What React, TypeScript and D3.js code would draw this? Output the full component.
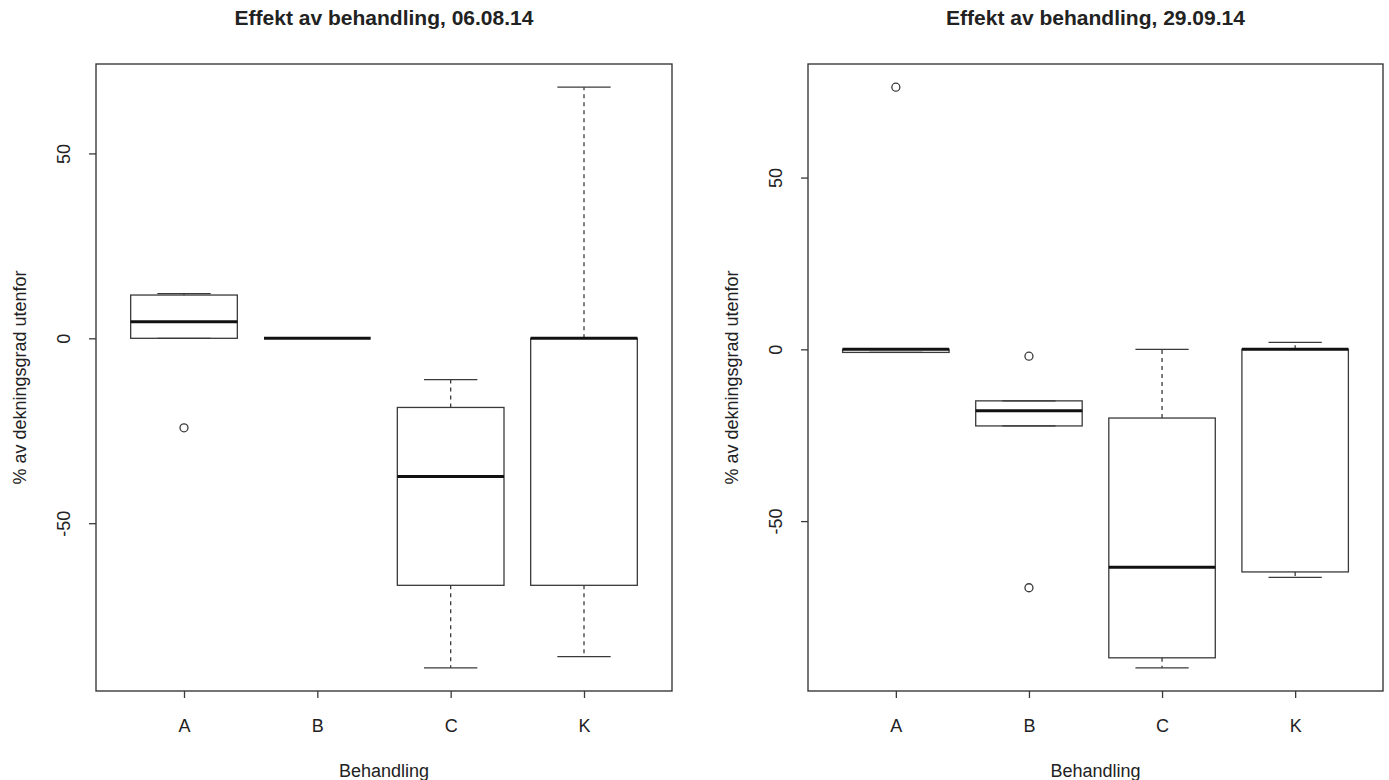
import React, { useEffect, useRef } from "react";
import * as d3 from "d3";

const categories = ["A", "B", "C", "K"];
const yTicks = [-50, 0, 50];

// Effekt av behandling, 06.08.14
const lowerWhisker1 = [0, 0, -89.1, -86.1];
const q1First = [0, 0, -66.8, -66.8];
const median1 = [4.5, 0, -37.4, 0];
const q3First = [11.7, 0, -18.7, 0];
const upperWhisker1 = [12.1, 0, -11.2, 67.9];
const outliers1 = [[-24.2], [], [], []];

// Effekt av behandling, 29.09.14
const lowerWhisker2 = [-0.9, -22.3, -92.7, -66.4];
const q1Second = [-0.9, -22.3, -89.8, -64.8];
const median2 = [0, -17.9, -63.4, 0];
const q3Second = [0, -15, -20, 0];
const upperWhisker2 = [0, -15, 0, 2];
const outliers2 = [[76.3], [-2, -69.4], [], []];

const FONT = "'Liberation Sans', Arial, Helvetica, sans-serif";
const INK = "#3a3a3a";

const App = () => {
  const svgEl = useRef(null);

  useEffect(() => {
    if (!svgEl.current) return;
    const svg = d3.select(svgEl.current);
    svg.selectAll("*").remove();
    drawPanel(svg, {
      left: 96,
      right: 672,
      title: "Effekt av behandling, 06.08.14",
      lower: lowerWhisker1,
      q1: q1First,
      median: median1,
      q3: q3First,
      upper: upperWhisker1,
      outliers: outliers1,
    });
    drawPanel(svg, {
      left: 808,
      right: 1383,
      title: "Effekt av behandling, 29.09.14",
      lower: lowerWhisker2,
      q1: q1Second,
      median: median2,
      q3: q3Second,
      upper: upperWhisker2,
      outliers: outliers2,
    });
  }, [svgEl]);

  return (
    <div style={{ position: "absolute", left: 0, top: 0, background: "#fff" }}>
      <svg ref={svgEl} width={1389} height={780} style={{ display: "block" }}></svg>
    </div>
  );
};

function drawPanel(svg, p) {
  const top = 64;
  const bottom = 691;
  const { left, right } = p;
  const n = categories.length;

  // R style ranges: 4% padding on both axes
  const xPad = n * 0.04;
  const x = d3
    .scaleLinear()
    .domain([0.5 - xPad, n + 0.5 + xPad])
    .range([left, right]);

  const all = [...p.lower, ...p.upper, ...p.outliers.flat()];
  const [mn, mx] = d3.extent(all);
  const yPad = (mx - mn) * 0.04;
  const y = d3
    .scaleLinear()
    .domain([mn - yPad, mx + yPad])
    .range([bottom, top]);

  const g = svg.append("g").attr("font-family", FONT);

  // title
  g.append("text")
    .attr("x", (left + right) / 2)
    .attr("y", 25)
    .attr("text-anchor", "middle")
    .attr("font-weight", "bold")
    .attr("font-size", 21)
    .attr("fill", "#222")
    .text(p.title);

  // x axis
  g.append("g")
    .attr("transform", "translate(0," + bottom + ")")
    .call(
      d3
        .axisBottom(x)
        .tickValues(categories.map((c, i) => i + 1))
        .tickFormat((d) => categories[d - 1])
        .tickSize(7)
        .tickPadding(21)
    )
    .call((a) => a.select(".domain").remove())
    .call((a) => a.selectAll("line").attr("stroke", INK).attr("stroke-width", 1.3))
    .call((a) =>
      a
        .selectAll("text")
        .attr("font-size", 18)
        .attr("font-family", FONT)
        .attr("fill", "#222")
    );

  // y axis (plain hyphen minus, like R)
  g.append("g")
    .attr("transform", "translate(" + left + ",0)")
    .call(
      d3
        .axisLeft(y)
        .tickValues(yTicks)
        .tickSize(7)
        .tickFormat((d) => String(d))
    )
    .call((a) => a.select(".domain").remove())
    .call((a) => a.selectAll("line").attr("stroke", INK).attr("stroke-width", 1.3))
    .call((a) =>
      a
        .selectAll("text")
        .attr("x", 0)
        .attr("y", -32)
        .attr("dy", "0.36em")
        .attr("transform", "rotate(-90)")
        .attr("text-anchor", "middle")
        .attr("font-size", 18)
        .attr("font-family", FONT)
        .attr("fill", "#222")
    );

  // axis titles
  g.append("text")
    .attr("transform", "translate(" + (left - 76) + "," + (top + bottom) / 2 + ") rotate(-90)")
    .attr("dy", "0.36em")
    .attr("text-anchor", "middle")
    .attr("font-size", 18)
    .attr("fill", "#222")
    .text("% av dekningsgrad utenfor");

  g.append("text")
    .attr("x", (left + right) / 2)
    .attr("y", 777)
    .attr("text-anchor", "middle")
    .attr("font-size", 18)
    .attr("fill", "#222")
    .text("Behandling");

  // frame
  g.append("rect")
    .attr("x", left)
    .attr("y", top)
    .attr("width", right - left)
    .attr("height", bottom - top)
    .attr("fill", "none")
    .attr("stroke", INK)
    .attr("stroke-width", 1.4);

  const boxHalf = x(1.4) - x(1);
  const capHalf = x(1.2) - x(1);

  categories.forEach((c, i) => {
    const cx = x(i + 1);
    const box = g.append("g");

    // whiskers
    [
      [p.q3[i], p.upper[i]],
      [p.q1[i], p.lower[i]],
    ].forEach(([from, to]) => {
      if (from !== to) {
        box
          .append("line")
          .attr("x1", cx)
          .attr("x2", cx)
          .attr("y1", y(from))
          .attr("y2", y(to))
          .attr("stroke", INK)
          .attr("stroke-width", 1.3)
          .attr("stroke-dasharray", "4,4");
      }
      box
        .append("line")
        .attr("x1", cx - capHalf)
        .attr("x2", cx + capHalf)
        .attr("y1", y(to))
        .attr("y2", y(to))
        .attr("stroke", INK)
        .attr("stroke-width", 1.3);
    });

    box
      .append("rect")
      .attr("x", cx - boxHalf)
      .attr("y", y(p.q3[i]))
      .attr("width", boxHalf * 2)
      .attr("height", Math.max(0, y(p.q1[i]) - y(p.q3[i])))
      .attr("fill", "none")
      .attr("stroke", INK)
      .attr("stroke-width", 1.3);

    box
      .append("line")
      .attr("x1", cx - boxHalf)
      .attr("x2", cx + boxHalf)
      .attr("y1", y(p.median[i]))
      .attr("y2", y(p.median[i]))
      .attr("stroke", "#111")
      .attr("stroke-width", 3);

    box
      .selectAll("circle")
      .data(p.outliers[i])
      .join("circle")
      .attr("cx", cx)
      .attr("cy", (d) => y(d))
      .attr("r", 4)
      .attr("fill", "none")
      .attr("stroke", INK)
      .attr("stroke-width", 1.3);
  });
}

export default App;
